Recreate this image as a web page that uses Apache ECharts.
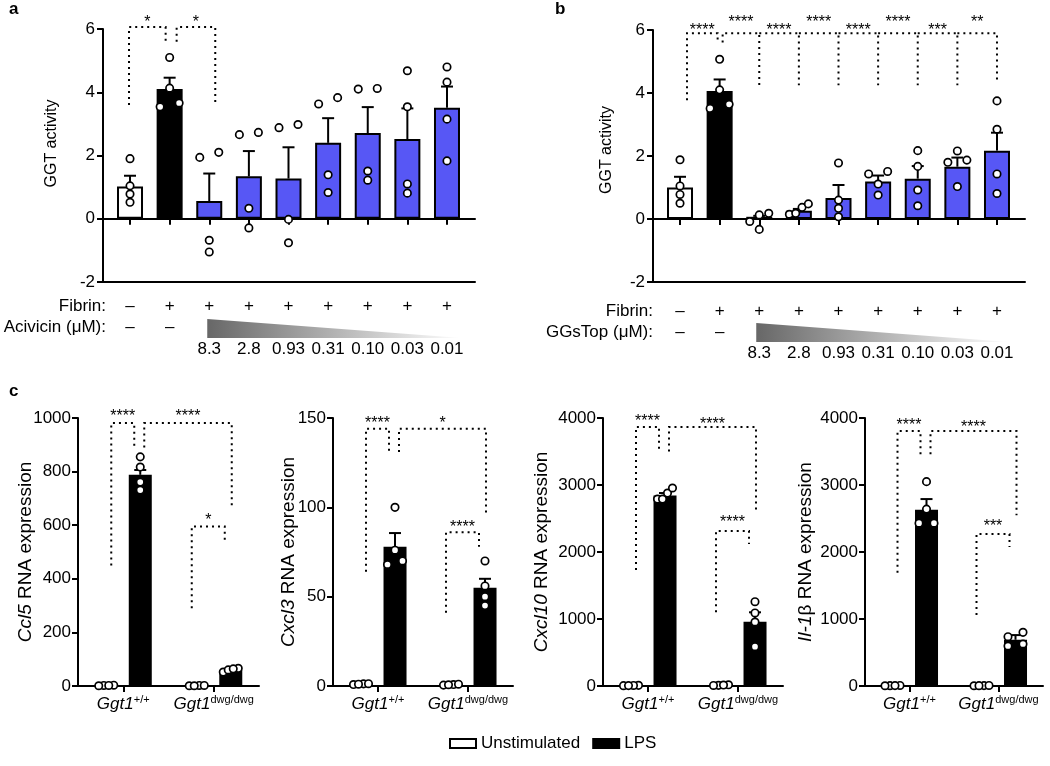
<!DOCTYPE html>
<html>
<head>
<meta charset="utf-8">
<title>GGT activity and chemokine expression</title>
<script src="https://cdn.jsdelivr.net/npm/echarts@6.0.0/dist/echarts.min.js"></script>
<style>
  html, body { margin: 0; padding: 0; background: #fff; }
  #main { width: 1050px; height: 766px; }
</style>
</head>
<body>
<div id="main"></div>
<script>
// ---------- values ----------
const treatments = ['Vehicle', 'Fibrin', '8.3', '2.8', '0.93', '0.31', '0.10', '0.03', '0.01'];
const fibrinSigns = ['–', '+', '+', '+', '+', '+', '+', '+', '+'];
const inhibitorSigns = ['–', '–', '', '', '', '', '', '', ''];
const doseLabels = ['', '', '8.3', '2.8', '0.93', '0.31', '0.10', '0.03', '0.01'];

// panel a – acivicin
const acivicinMean = [1.02, 4.10, 0.56, 1.34, 1.27, 2.40, 2.71, 2.52, 3.51];
const acivicinSemTop = [1.36, 4.46, 1.43, 2.14, 2.26, 3.18, 3.53, 3.49, 4.18];
const acivicinPoints = [
  [1.90, 1.04, 0.78, 0.52], [5.10, 4.13, 3.54, 3.66], [1.94, 2.10, -0.68, -1.05],
  [2.66, 2.73, 0.33, -0.29], [2.88, 2.98, -0.02, -0.76], [3.63, 3.83, 1.39, 0.83],
  [4.10, 4.12, 1.51, 1.22], [4.68, 3.54, 1.10, 0.81], [4.80, 4.32, 3.15, 1.83]
];
// [category, leg shift px, leg end value]
const acivicinBrackets = [
  { from: [0, -1, 3.6], to: [1, -4, 5.6], top: 6.06, stars: '*', lift: 5 },
  { from: [1, 7, 5.6], to: [2, 6, 3.6], top: 6.06, stars: '*', lift: 5 }
];

// panel b – GGsTop
const ggstopMean = [1.00, 4.06, 0.07, 0.26, 0.67, 1.19, 1.28, 1.66, 2.17];
const ggstopSemTop = [1.34, 4.43, 0.10, 0.32, 1.08, 1.38, 1.68, 1.95, 2.74];
const ggstopPoints = [
  [1.88, 1.05, 0.78, 0.50], [5.07, 4.10, 3.51, 3.64], [0.13, 0.18, -0.33, -0.08],
  [0.15, 0.37, 0.48, 0.18], [1.78, 0.60, 0.34, 0.07], [1.43, 1.51, 1.11, 0.76],
  [2.17, 1.67, 0.92, 0.42], [1.87, 2.16, 1.80, 1.03], [3.75, 2.85, 1.43, 0.81]
];
const ggstopBrackets = [
  { from: [0, 7, 3.77], to: [1, -2, 5.6], top: 5.9, stars: '****', lift: 3 },
  { from: [1, 3, 5.6], to: [2, 0, 4.25], top: 5.9, stars: '****', lift: 11 },
  { from: [2, 0, 5.9], to: [3, 0, 4.25], top: 5.9, stars: '****', lift: 3 },
  { from: [3, 0, 5.9], to: [4, 0, 4.25], top: 5.9, stars: '****', lift: 11 },
  { from: [4, 0, 5.9], to: [5, 0, 4.25], top: 5.9, stars: '****', lift: 3 },
  { from: [5, 0, 5.9], to: [6, 0, 4.25], top: 5.9, stars: '****', lift: 11 },
  { from: [6, 0, 5.9], to: [7, 0, 4.25], top: 5.9, stars: '***', lift: 3 },
  { from: [7, 0, 5.9], to: [8, 0, 4.33], top: 5.9, stars: '**', lift: 11 }
];

// panel c – RNA expression, groups: Ggt1+/+ , Ggt1 dwg/dwg
const genotypeSup = ['+/+', 'dwg/dwg'];

const ccl5UnstimMean = [2, 2];
const ccl5LpsMean = [788, 60];
const ccl5LpsSemTop = [806, 67];
const ccl5UnstimPoints = [[2, 3, 1, 2], [1, 2, 1, 2]];
const ccl5LpsPoints = [[855, 817, 731, 761], [52, 66, 60, 64]];
const ccl5Brackets = [
  { from: [0, -12, 450], to: [0, 11, 890], top: 981, stars: '****', lift: 6 },
  { from: [0, 21, 890], to: [1, 18, 665], top: 981, stars: '****', lift: 6 },
  { from: [1, -22, 290], to: [1, 11, 545], top: 595, stars: '*', lift: 6 }
];

const cxcl3UnstimMean = [1.1, 0.8];
const cxcl3LpsMean = [78, 55];
const cxcl3LpsSemTop = [85.6, 60];
const cxcl3UnstimPoints = [[0.8, 1.2, 1.0, 1.3], [0.5, 0.8, 1.0, 0.7]];
const cxcl3LpsPoints = [[100, 76, 68, 70], [70, 56, 50, 45]];
const cxcl3Brackets = [
  { from: [0, -12, 64], to: [0, 11, 131], top: 144, stars: '****', lift: 5 },
  { from: [0, 21, 131], to: [1, 18, 97], top: 144, stars: '*', lift: 5 },
  { from: [1, -22, 41], to: [1, 11, 78], top: 86, stars: '****', lift: 5 }
];

const cxcl10UnstimMean = [8, 12];
const cxcl10LpsMean = [2845, 960];
const cxcl10LpsSemTop = [2880, 1100];
const cxcl10UnstimPoints = [[5, 10, 8, 6], [10, 18, 14, 8]];
const cxcl10LpsPoints = [[2790, 2880, 2955, 2790], [1258, 1090, 955, 587]];
const cxcl10Brackets = [
  { from: [0, -12, 1730], to: [0, 11, 3500], top: 3866, stars: '****', lift: 5 },
  { from: [0, 21, 3500], to: [1, 18, 2600], top: 3866, stars: '****', lift: 2 },
  { from: [1, -22, 1100], to: [1, 11, 2120], top: 2313, stars: '****', lift: 8 }
];

const il1bUnstimMean = [6, 6];
const il1bLpsMean = [2630, 690];
const il1bLpsSemTop = [2790, 760];
const il1bUnstimPoints = [[5, 8, 6, 4], [6, 4, 8, 5]];
const il1bLpsPoints = [[3050, 2640, 2430, 2430], [736, 801, 597, 627]];
const il1bBrackets = [
  { from: [0, -12, 1690], to: [0, 11, 3460], top: 3806, stars: '****', lift: 5 },
  { from: [0, 21, 3460], to: [1, 18, 2550], top: 3806, stars: '****', lift: 3 },
  { from: [1, -22, 1060], to: [1, 11, 2075], top: 2269, stars: '***', lift: 7 }
];

// ---------- drawing helpers ----------
const FONT = '"Liberation Sans", Arial, Helvetica, sans-serif';
const BLUE = '#5757f5';
const AXIS_LINE = { color: '#000', width: 2 };

function errorBars(dx) {
  return function (params, api) {
    const x = api.value(0);
    const base = api.coord([x, api.value(1)]);
    const top = api.coord([x, api.value(2)]);
    const cx = base[0] + dx;
    return {
      type: 'group',
      children: [
        { type: 'line', shape: { x1: cx, y1: base[1], x2: cx, y2: top[1] }, style: { stroke: '#000', lineWidth: 2 } },
        { type: 'line', shape: { x1: cx - 6, y1: top[1], x2: cx + 6, y2: top[1] }, style: { stroke: '#000', lineWidth: 2 } }
      ]
    };
  };
}

// points sitting too close vertically are spread sideways, like a small swarm
function dots(dx, spread) {
  return function (params, api) {
    const x = api.value(0);
    const pts = [];
    for (let k = 1; k <= 4; k++) pts.push(api.coord([x, api.value(k)]));
    const order = pts.map(function (p, k) { return k; })
      .sort(function (a, b) { return pts[b][1] - pts[a][1]; });
    const shift = [0, 0, 0, 0];
    let cluster = [order[0]];
    function flush() {
      const n = cluster.length;
      cluster.forEach(function (k, j) { shift[k] = n === 1 ? 0 : -spread + 2 * spread * j / (n - 1); });
    }
    for (let j = 1; j < order.length; j++) {
      if (pts[order[j - 1]][1] - pts[order[j]][1] < 7) cluster.push(order[j]);
      else { flush(); cluster = [order[j]]; }
    }
    flush();
    return {
      type: 'group',
      children: pts.map(function (p, k) {
        return {
          type: 'circle',
          shape: { cx: p[0] + dx + shift[k], cy: p[1], r: 3.7 },
          style: { fill: '#fff', stroke: '#000', lineWidth: 1.7 }
        };
      })
    };
  };
}

function brackets(list) {
  return function (params, api) {
    const b = list[params.dataIndex];
    const top = api.coord([b.from[0], b.top])[1];
    const x1 = api.coord([b.from[0], 0])[0] + b.from[1];
    const x2 = api.coord([b.to[0], 0])[0] + b.to[1];
    const y1 = api.coord([b.from[0], b.from[2]])[1];
    const y2 = api.coord([b.to[0], b.to[2]])[1];
    return {
      type: 'group',
      children: [
        {
          type: 'polyline',
          shape: { points: [[x1, y1], [x1, top], [x2, top], [x2, y2]] },
          style: { fill: 'none', stroke: '#000', lineWidth: 2, lineDash: [2, 4] }
        },
        {
          type: 'text', x: (x1 + x2) / 2, y: top - b.lift,
          style: { text: b.stars, fontSize: 16, fontFamily: FONT, fill: '#000', align: 'center', verticalAlign: 'middle' }
        }
      ]
    };
  };
}

const grids = [];
const xAxes = [];
const yAxes = [];
const series = [];
const dosePanels = [];

function addDosePanel(p) {
  const frame = grids.length;
  grids.push({ left: p.left, top: p.top, width: 372, height: p.height, outerBoundsMode: 'none' });
  grids.push({ left: p.left + 7.2, top: p.top, width: 356.6, height: p.height, outerBoundsMode: 'none' });

  const yFrame = yAxes.length;
  yAxes.push({
    gridIndex: frame, type: 'value', min: -2, max: 6, interval: 2,
    name: 'GGT activity', nameLocation: 'middle', nameGap: p.nameGap, nameMoveOverlap: false,
    nameTextStyle: { fontSize: 16, color: '#000', fontFamily: FONT, padding: [0, 0, 0, p.nameShift] },
    axisLine: { show: true, onZero: false, lineStyle: AXIS_LINE },
    axisTick: { show: true, length: 6, lineStyle: AXIS_LINE },
    axisLabel: { fontSize: 17, color: '#000', margin: 8, fontFamily: FONT },
    splitLine: { show: false }
  });
  yAxes.push({ gridIndex: frame + 1, type: 'value', min: -2, max: 6, show: false });

  const xFrame = xAxes.length;
  // bottom frame line
  xAxes.push({
    gridIndex: frame, type: 'value', min: 0, max: 1, position: 'bottom',
    axisLine: { show: true, onZero: false, lineStyle: AXIS_LINE },
    axisTick: { show: false }, axisLabel: { show: false }, splitLine: { show: false }
  });
  // line at zero
  xAxes.push({
    gridIndex: frame, type: 'value', min: 0, max: 1, position: 'bottom',
    axisLine: { show: true, onZero: true, lineStyle: AXIS_LINE },
    axisTick: { show: false }, axisLabel: { show: false }, splitLine: { show: false }
  });
  const xData = xAxes.length;
  xAxes.push({
    gridIndex: frame + 1, type: 'category', data: treatments,
    axisLine: { show: false },
    axisTick: { show: true, alignWithLabel: true, length: 6, lineStyle: AXIS_LINE },
    axisLabel: {
      interval: 0, margin: p.labelMargin, color: '#000',
      formatter: function (v, i) {
        return '{r1|' + fibrinSigns[i] + '}\n{r2|' + (inhibitorSigns[i] || ' ') + '}\n{r3|' + (doseLabels[i] || ' ') + '}';
      },
      rich: {
        r1: { fontSize: 17, lineHeight: 21, fontFamily: FONT, color: '#000' },
        r2: { fontSize: 17, lineHeight: 21, fontFamily: FONT, color: '#000' },
        r3: { fontSize: 17, lineHeight: p.doseLine, fontFamily: FONT, color: '#000' }
      }
    },
    splitLine: { show: false }
  });

  const yData = yFrame + 1;
  series.push({
    type: 'bar', name: p.drug, xAxisIndex: xData, yAxisIndex: yData, barWidth: 26, z: 2,
    itemStyle: { borderColor: '#000', borderWidth: 2 },
    data: p.mean.map(function (v, i) {
      return { value: v, itemStyle: { color: i === 0 ? '#fff' : i === 1 ? '#000' : BLUE } };
    })
  });
  series.push({
    type: 'custom', xAxisIndex: xData, yAxisIndex: yData, z: 3, silent: true,
    data: p.mean.map(function (m, i) { return [i, m, p.semTop[i]]; }),
    renderItem: errorBars(0)
  });
  series.push({
    type: 'custom', xAxisIndex: xData, yAxisIndex: yData, z: 4, silent: true,
    data: p.points.map(function (pts, i) { return [i].concat(pts); }),
    renderItem: dots(0, 9.5)
  });
  series.push({
    type: 'custom', xAxisIndex: xData, yAxisIndex: yData, z: 5, silent: true,
    data: p.brackets.map(function (b) { return [b.from[0], b.top]; }),
    renderItem: brackets(p.brackets)
  });
  dosePanels.push(Object.assign({ xFrame: xFrame, xData: xData, yFrame: yFrame }, p));
}

function addGenePanel(g) {
  const gi = grids.length;
  grids.push({ left: g.left, top: 418, width: g.width, height: 268, outerBoundsMode: 'none' });
  const xi = xAxes.length;
  const yi = yAxes.length;
  xAxes.push({
    gridIndex: gi, type: 'category', data: genotypeSup.map(function (s) { return 'Ggt1' + s; }),
    axisLine: { show: true, lineStyle: AXIS_LINE },
    axisTick: { show: true, alignWithLabel: true, length: 6, lineStyle: AXIS_LINE },
    axisLabel: {
      interval: 0, margin: 8,
      formatter: function (v, i) { return '{i|Ggt1}{s|' + genotypeSup[i] + '}'; },
      rich: {
        i: { fontSize: 17, fontStyle: 'italic', lineHeight: 20, fontFamily: FONT, color: '#000' },
        s: { fontSize: 11, lineHeight: 11, verticalAlign: 'top', fontFamily: FONT, color: '#000' }
      }
    },
    splitLine: { show: false }
  });
  yAxes.push({
    gridIndex: gi, type: 'value', min: 0, max: g.max, interval: g.step,
    name: g.name, nameLocation: 'middle', nameGap: g.nameGap, nameMoveOverlap: false,
    nameTextStyle: {
      fontSize: 19, color: '#000', fontFamily: FONT,
      rich: { i: { fontSize: 19, fontStyle: 'italic', color: '#000', fontFamily: FONT } }
    },
    axisLine: { show: true, lineStyle: AXIS_LINE },
    axisTick: { show: true, length: 6, lineStyle: AXIS_LINE },
    axisLabel: {
      fontSize: 17, color: '#000', margin: 7, fontFamily: FONT,
      formatter: function (v) { return String(v); }
    },
    splitLine: { show: false }
  });
  series.push({
    type: 'bar', name: 'Unstimulated', xAxisIndex: xi, yAxisIndex: yi, barWidth: 23, barGap: '48%', z: 2,
    itemStyle: { color: '#fff', borderColor: '#000', borderWidth: 1.5 }, data: g.unstimMean
  });
  series.push({
    type: 'bar', name: 'LPS', xAxisIndex: xi, yAxisIndex: yi, barWidth: 23, barGap: '48%', z: 2,
    itemStyle: { color: '#000', borderColor: '#000', borderWidth: 1.5 }, data: g.lpsMean
  });
  series.push({
    type: 'custom', xAxisIndex: xi, yAxisIndex: yi, z: 3, silent: true,
    data: g.lpsMean.map(function (m, i) { return [i, m, g.lpsSemTop[i]]; }),
    renderItem: errorBars(17)
  });
  series.push({
    type: 'custom', xAxisIndex: xi, yAxisIndex: yi, z: 4, silent: true,
    data: g.unstimPoints.map(function (pts, i) { return [i].concat(pts); }),
    renderItem: dots(-17, 7.5)
  });
  series.push({
    type: 'custom', xAxisIndex: xi, yAxisIndex: yi, z: 4, silent: true,
    data: g.lpsPoints.map(function (pts, i) { return [i].concat(pts); }),
    renderItem: dots(17, 7.5)
  });
  series.push({
    type: 'custom', xAxisIndex: xi, yAxisIndex: yi, z: 5, silent: true,
    data: g.brackets.map(function (b) { return [b.from[0], b.top]; }),
    renderItem: brackets(g.brackets)
  });
}

addDosePanel({
  drug: 'Acivicin', left: 103, top: 29, height: 253, nameGap: 43, nameShift: 24,
  labelMargin: 13.5, doseLine: 24, mean: acivicinMean, semTop: acivicinSemTop,
  points: acivicinPoints, brackets: acivicinBrackets,
  rowX: 3, row1: 24, row2: 45, triLeft: 2, triRight: 15, triTop: 37, triBottom: 56
});
addDosePanel({
  drug: 'GGsTop', left: 653, top: 30, height: 252, nameGap: 38, nameShift: 12,
  labelMargin: 18.5, doseLine: 21, mean: ggstopMean, semTop: ggstopSemTop,
  points: ggstopPoints, brackets: ggstopBrackets,
  rowX: 0, row1: 29, row2: 50, triLeft: 3, triRight: 12, triTop: 41, triBottom: 60
});

addGenePanel({
  left: 78, width: 181, max: 1000, step: 200, nameGap: 43, name: '{i|Ccl5} RNA expression',
  unstimMean: ccl5UnstimMean, lpsMean: ccl5LpsMean, lpsSemTop: ccl5LpsSemTop,
  unstimPoints: ccl5UnstimPoints, lpsPoints: ccl5LpsPoints, brackets: ccl5Brackets
});
addGenePanel({
  left: 333, width: 180, max: 150, step: 50, nameGap: 35, name: '{i|Cxcl3} RNA expression',
  unstimMean: cxcl3UnstimMean, lpsMean: cxcl3LpsMean, lpsSemTop: cxcl3LpsSemTop,
  unstimPoints: cxcl3UnstimPoints, lpsPoints: cxcl3LpsPoints, brackets: cxcl3Brackets
});
addGenePanel({
  left: 603, width: 180, max: 4000, step: 1000, nameGap: 52, name: '{i|Cxcl10} RNA expression',
  unstimMean: cxcl10UnstimMean, lpsMean: cxcl10LpsMean, lpsSemTop: cxcl10LpsSemTop,
  unstimPoints: cxcl10UnstimPoints, lpsPoints: cxcl10LpsPoints, brackets: cxcl10Brackets
});
addGenePanel({
  left: 865, width: 178, max: 4000, step: 1000, nameGap: 50, name: '{i|Il-1}β RNA expression',
  unstimMean: il1bUnstimMean, lpsMean: il1bLpsMean, lpsSemTop: il1bLpsSemTop,
  unstimPoints: il1bUnstimPoints, lpsPoints: il1bLpsPoints, brackets: il1bBrackets
});

const chart = echarts.init(document.getElementById('main'), null, { renderer: 'canvas' });
chart.setOption({
  animation: false,
  backgroundColor: '#fff',
  textStyle: { fontFamily: FONT, color: '#000' },
  title: [
    { text: 'a', left: 9, top: 1, padding: 0, textStyle: { fontSize: 17, fontWeight: 'bold', color: '#000', fontFamily: FONT } },
    { text: 'b', left: 555, top: 1, padding: 0, textStyle: { fontSize: 17, fontWeight: 'bold', color: '#000', fontFamily: FONT } },
    { text: 'c', left: 9, top: 383, padding: 0, textStyle: { fontSize: 17, fontWeight: 'bold', color: '#000', fontFamily: FONT } }
  ],
  legend: {
    data: ['Unstimulated', 'LPS'], left: 449, top: 735, padding: 0, icon: 'rect',
    itemWidth: 26, itemHeight: 9, itemGap: 12, selectedMode: false,
    textStyle: { fontSize: 17, color: '#000', fontFamily: FONT }
  },
  grid: grids,
  xAxis: xAxes,
  yAxis: yAxes,
  series: series
});

// row captions and the dose wedge under panels a and b
const extras = [];
dosePanels.forEach(function (p) {
  const axisY = chart.convertToPixel({ yAxisIndex: p.yFrame }, -2);
  const left = chart.convertToPixel({ xAxisIndex: p.xFrame }, 0);
  const xL = chart.convertToPixel({ xAxisIndex: p.xData }, treatments[2]) - p.triLeft;
  const xR = chart.convertToPixel({ xAxisIndex: p.xData }, treatments[8]) + p.triRight;
  extras.push({
    type: 'polygon',
    shape: { points: [[xL, axisY + p.triTop], [xL, axisY + p.triBottom], [xR, axisY + p.triBottom]] },
    style: {
      fill: { type: 'linear', x: 0, y: 0, x2: 1, y2: 0, colorStops: [{ offset: 0, color: '#676767' }, { offset: 1, color: '#ffffff' }] }
    }
  });
  extras.push({
    type: 'text', x: left + p.rowX, y: axisY + p.row1,
    style: { text: 'Fibrin:', fontSize: 17, fontFamily: FONT, fill: '#000', align: 'right', verticalAlign: 'middle' }
  });
  extras.push({
    type: 'text', x: left + p.rowX, y: axisY + p.row2,
    style: { text: p.drug + ' (μM):', fontSize: 17, fontFamily: FONT, fill: '#000', align: 'right', verticalAlign: 'middle' }
  });
});
chart.setOption({ graphic: extras });
</script>
</body>
</html>
